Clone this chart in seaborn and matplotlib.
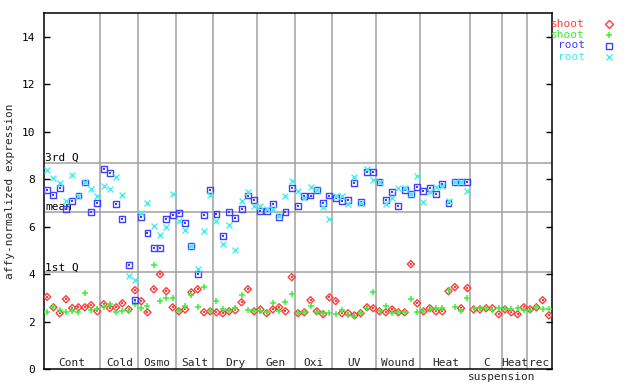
import numpy as np
import pandas as pd
import matplotlib
matplotlib.use("Agg")
import matplotlib.pyplot as plt
from matplotlib.lines import Line2D
import matplotlib.transforms as mtransforms
import seaborn as sns

# ---------------- data ----------------
groups = ["Cont", "Cold", "Osmo", "Salt", "Dry", "Gen", "Oxi", "UV",
          "Wound", "Heat", "C", "Heat", "rec"]
group_sizes = [9, 6, 6, 6, 7, 6, 6, 7, 7, 8, 5, 4, 4]
suspension_label = "suspension"

shoot_1 = [3.04, 2.60, 2.35, 2.94, 2.57, 2.60, 2.60, 2.69, 2.43,
           2.73, 2.56, 2.60, 2.77, 2.51, 3.32,
           2.86, 2.39, 3.36, 3.99, 3.28, 2.60,
           2.43, 2.51, 3.23, 3.36, 2.39, 2.43,
           2.39, 2.35, 2.43, 2.48, 2.81, 3.36, 2.43,
           2.51, 2.35, 2.51, 2.60, 2.43, 3.87,
           2.35, 2.39, 2.90, 2.43, 2.31, 3.02,
           2.86, 2.35, 2.35, 2.26, 2.35, 2.60, 2.56,
           2.43, 2.39, 2.51, 2.39, 2.39, 4.42, 2.77,
           2.43, 2.56, 2.43, 2.43, 3.28, 3.45, 2.56, 3.41,
           2.51, 2.51, 2.56, 2.56, 2.31,
           2.51, 2.39, 2.31, 2.60,
           2.51, 2.60, 2.90, 2.26]
shoot_2 = [2.39, 2.60, 2.49, 2.39, 2.43, 2.39, 3.19, 2.49, 2.53,
           2.60, 2.73, 2.39, 2.43, 2.43, 2.75,
           2.56, 2.64, 4.37, 2.86, 2.98, 2.98,
           2.45, 2.64, 3.11, 2.60, 3.46, 2.43,
           2.86, 2.51, 2.43, 2.56, 3.11, 2.48, 2.43,
           2.43, 2.39, 2.77, 2.43, 2.81, 3.15,
           2.35, 2.39, 2.64, 2.39, 2.35, 2.35,
           2.31, 2.48, 2.26, 2.22, 2.35, 2.56, 3.23,
           2.43, 2.64, 2.35, 2.39, 2.39, 2.94, 2.39,
           2.43, 2.51, 2.56, 2.56, 3.32, 2.60, 2.43, 2.98,
           2.56, 2.56, 2.56, 2.48, 2.56,
           2.51, 2.51, 2.56, 2.48,
           2.48, 2.60, 2.51, 2.51]
root_1 = [7.54, 7.34, 7.62, 6.74, 7.09, 7.31, 7.86, 6.62, 6.99,
          8.43, 8.26, 6.96, 6.31, 4.37, 2.90,
          6.40, 5.72, 5.09, 5.09, 6.32, 6.48,
          6.57, 6.15, 5.18, 3.99, 6.48, 7.54,
          6.53, 5.60, 6.61, 6.36, 6.74, 7.31, 7.12,
          6.65, 6.65, 6.95, 6.40, 6.61, 7.62,
          6.86, 7.29, 7.31, 7.54, 6.99, 7.31,
          7.20, 7.08, 7.12, 7.83, 7.03, 8.30, 8.30,
          7.88, 7.12, 7.45, 6.86, 7.54, 7.37, 7.67,
          7.50, 7.62, 7.37, 7.79, 6.99, 7.88, 7.88, 7.88] + [np.nan] * 13
root_2 = [8.38, 8.05, 7.85, 7.09, 8.19, 7.31, 7.86, 7.58, 7.30,
          7.71, 7.58, 8.09, 7.34, 3.92, 3.74,
          6.57, 7.00, 6.03, 5.64, 5.98, 7.37,
          6.24, 5.85, 5.18, 4.20, 5.81, 7.33,
          6.23, 5.26, 6.06, 5.01, 7.08, 7.45, 6.86,
          6.86, 6.74, 6.74, 6.44, 7.29, 7.92,
          7.50, 7.20, 7.67, 7.54, 6.82, 6.32,
          7.31, 7.29, 6.95, 8.09, 6.99, 8.43, 7.96,
          7.90, 6.95, 7.20, 7.62, 7.62, 7.37, 8.13,
          7.03, 7.45, 7.67, 7.71, 7.08, 7.88, 7.88, 7.50] + [np.nan] * 13

ref_names = ["3rd Q", "mean", "1st Q"]
ref_values = [8.68, 6.62, 4.08]

series_names = ["shoot", "shoot", "root", "root"]
y_ticks = [0, 2, 4, 6, 8, 10, 12, 14]
y_max = 15

# ---------------- style ----------------
RED, GREEN, BLUE, CYAN = "#ff3c3c", "#3cf03c", "#4040ff", "#40f0f0"
GRAY = "#a0a0a0"

sns.set_theme(style="white")
plt.rcParams["font.family"] = ["DejaVu Sans Mono", "DejaVu Sans"]
plt.rcParams["font.size"] = 8

n = sum(group_sizes)
idx = np.arange(n)
df = pd.DataFrame({"idx": idx, "s1": shoot_1, "s2": shoot_2,
                   "r1": root_1, "r2": root_2})

fig = plt.figure(figsize=(6.4, 3.84), dpi=100)
ax = fig.add_axes([44 / 640, 15 / 384, 508 / 640, 356 / 384])

# reference lines and group separators
bounds = np.cumsum(group_sizes) - 0.5
for b in bounds[:-1]:
    ax.axvline(b, color=GRAY, lw=1.1, zorder=1)
for name, v in zip(ref_names, ref_values):
    ax.axhline(v, color=GRAY, lw=1.1, zorder=1)
    off = mtransforms.offset_copy(ax.transData, fig=fig, x=1, y=1.3, units="points")
    ax.text(-0.5, v, name, ha="left", va="baseline", color="black",
            fontsize=8, transform=off, zorder=2)

# series
sns.scatterplot(data=df, x="idx", y="s1", marker="D", s=13,
                facecolor="none", edgecolor=RED, linewidth=1.0, ax=ax, zorder=3)
sns.scatterplot(data=df, x="idx", y="s1", marker="s", s=1.2,
                color=RED, linewidth=0, ax=ax, zorder=3)
sns.scatterplot(data=df, x="idx", y="s2", marker="+", s=22,
                color=GREEN, linewidth=1.1, ax=ax, zorder=3)
sns.scatterplot(data=df, x="idx", y="r1", marker="s", s=18,
                facecolor="none", edgecolor=BLUE, linewidth=1.0, ax=ax, zorder=3)
sns.scatterplot(data=df, x="idx", y="r1", marker="s", s=1.2,
                color=BLUE, linewidth=0, ax=ax, zorder=3)
sns.scatterplot(data=df, x="idx", y="r2", marker="x", s=18,
                color=CYAN, linewidth=1.0, ax=ax, zorder=3)

ax.set_xlim(-0.5, n - 0.5)
ax.set_ylim(0, y_max)
ax.set_xticks([])
ax.set_yticks(y_ticks)
ax.set_yticklabels([str(t) for t in y_ticks])
ax.tick_params(axis="y", direction="in", length=4, width=1, pad=6.5,
               left=True, right=True, labelsize=8, colors="black")
ax.set_xlabel("")
ax.set_ylabel("affy-normalized expression", fontsize=8, labelpad=5)
for sp in ax.spines.values():
    sp.set_color("black")
    sp.set_linewidth(1.1)

# group labels
starts = np.concatenate([[0], np.cumsum(group_sizes)[:-1]])
centers = starts + (np.array(group_sizes) - 1) / 2
up = mtransforms.offset_copy(ax.transData, fig=fig, x=0, y=1, units="points")
for g, c in zip(groups, centers):
    ax.text(c, 0, g, ha="center", va="bottom", fontsize=8, transform=up)
down = mtransforms.offset_copy(ax.transData, fig=fig, x=0, y=-2.5, units="points")
ax.text(bounds[groups.index("C")], 0, suspension_label, ha="center", va="top",
        fontsize=8, transform=down, clip_on=False)

# legend (text then marker, as in reference)
leg_rows = [24, 34.5, 45.5, 56.5]
leg_styles = [dict(marker="D", ms=3.6, mfc="none", mec=RED, mew=1.0),
              dict(marker="+", ms=4.7, mec=GREEN, mew=1.1),
              dict(marker="s", ms=4.2, mfc="none", mec=BLUE, mew=1.0),
              dict(marker="x", ms=4.2, mec=CYAN, mew=1.0)]
leg_colors = [RED, GREEN, BLUE, CYAN]
for name, yy, st, col in zip(series_names, leg_rows, leg_styles, leg_colors):
    fy = 1 - yy / 384
    fig.text(585 / 640, fy, name, ha="right", va="center", color=col, fontsize=8)
    fig.add_artist(Line2D([609 / 640], [fy], linestyle="none",
                          transform=fig.transFigure, **st))

fig.savefig("out.png", dpi=100)
